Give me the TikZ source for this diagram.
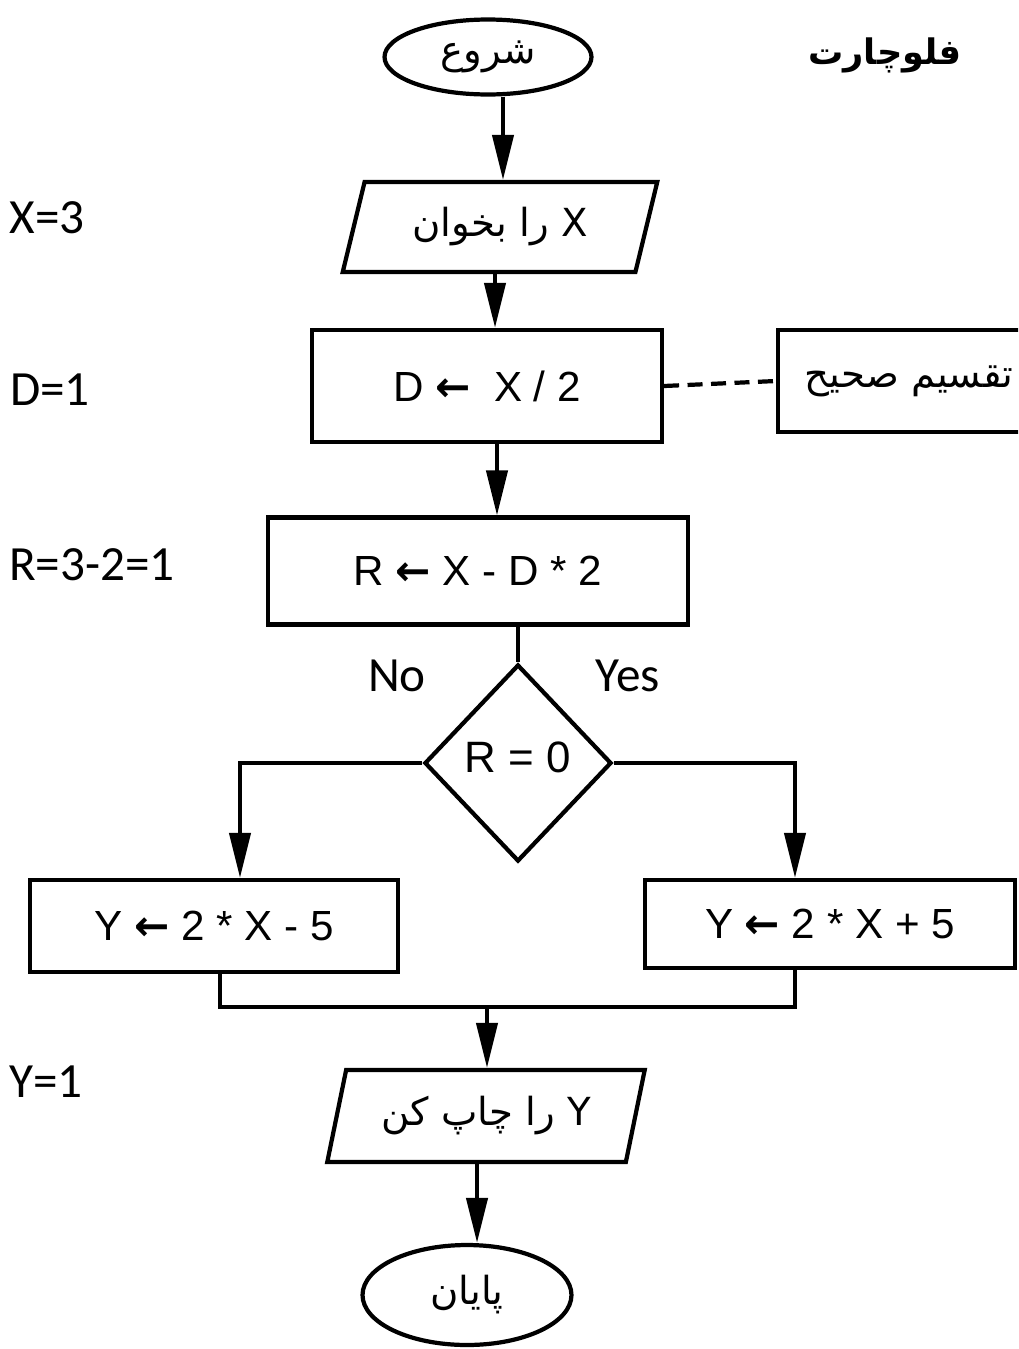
\documentclass[tikz,border=0pt]{standalone}
\usepackage{fontspec}
\setmainfont{Carlito}
\newfontfamily\formfont{Liberation Sans}
\newfontfamily\arrowfont{DejaVu Sans}
\newfontfamily\farsi[Script=Arabic]{DejaVu Sans}
\TeXXeTstate=1
\newcommand{\getsarrow}{{\arrowfont\bfseries ←}}
\usetikzlibrary{shapes.geometric,arrows.meta,calc}

\begin{document}
\begin{tikzpicture}[
    x=0.02cm, y=-0.02cm,
    line width=2.4pt,
    every node/.style={inner sep=0pt},
    terminal/.style={
      ellipse,
      draw,
      font=\farsi\fontsize{22}{26}\selectfont
    },
    io/.style={
      trapezium,
      trapezium left angle=70,
      trapezium right angle=110,
      trapezium stretches=true,
      draw,
      minimum width=6.3cm,
      minimum height=1.8cm,
      font=\farsi\fontsize{22}{26}\selectfont
    },
    proc/.style={
      rectangle,
      draw,
      font=\formfont\fontsize{24}{28}\selectfont
    },
    decision/.style={
      diamond,
      draw,
      minimum width=3.74cm,
      minimum height=3.94cm,
      font=\formfont\fontsize{25}{29}\selectfont
    },
    note/.style={font=\fontsize{28}{32}\selectfont},
    arr/.style={-{Triangle[length=0.9cm, width=0.42cm]}},
    dashline/.style={dash pattern=on 0.3cm off 0.17cm}
  ]
    \useasboundingbox (0,0) rectangle (1018,1349);
    \clip (0,0) rectangle (1018,1349);

    % main column
    \node[terminal, minimum width=4.14cm, minimum height=1.5cm] (start) at (488,57) {\raisebox{-0.1cm}{\beginR شروع\endR}};
    \node[font=\farsi\bfseries\fontsize{20}{24}\selectfont] (title) at (885,55) {\beginR فلوچارت\endR};
    \node[io] (read) at (500,227) {\raisebox{-0.08cm}{\beginR X را بخوان\endR}};
    \node[proc, minimum width=7cm, minimum height=2.24cm] (div) at (487,386) {D \getsarrow\ \ X / 2};
    \node[proc, minimum width=5.24cm, minimum height=2.04cm, font=\farsi\fontsize{22}{26}\selectfont] (side) at (909,381) {\raisebox{-0.08cm}{\beginR تقسیم صحیح\endR}};
    \node[proc, minimum width=8.4cm, minimum height=2.14cm] (rem) at (478,571) {R \getsarrow\ X - D * 2};
    \node[decision] (cond) at (518,763) {\raisebox{0.22cm}{R = 0}};
    \node[note] (no) at (397,676) {No};
    \node[note] (yes) at (628,676) {Yes};
    \node[proc, minimum width=7.36cm, minimum height=1.84cm] (lft) at (214,926) {Y \getsarrow\ 2 * X - 5};
    \node[proc, minimum width=7.4cm, minimum height=1.76cm] (rgt) at (830,924) {Y \getsarrow\ 2 * X + 5};
    \node[io, minimum width=6.36cm, minimum height=1.84cm] (out) at (486,1116) {\raisebox{-0.08cm}{\beginR Y را چاپ کن\endR}};
    \node[terminal, minimum width=4.18cm, minimum height=2cm] (stop) at (467,1295) {\raisebox{-0.1cm}{\beginR پایان\endR}};

    % traced values
    \node[note] (nx) at (47,218) {X=3};
    \node[note] (nd) at (50,390) {D=1};
    \node[note] (nr) at (92,565) {R=3-2=1};
    \node[note] (ny) at (46,1082) {Y=1};

    % connectors
    \draw[arr] ($(start.south)+(15,0)$) coordinate (a1) -- (a1 |- read.north);
    \draw[arr] ($(read.south)+(-5,0)$) coordinate (a2) -- (a2 |- div.north);
    \draw[arr] ($(div.south)+(10,0)$) coordinate (a3) -- (a3 |- rem.north);
    \draw[dashline] (div.east) -- (side.west);
    \draw (cond.north |- rem.south) -- (cond.north);
    \draw[arr] (cond.west) -| ($(lft.north)+(26,0)$);
    \draw[arr] (cond.east) -| ($(rgt.north)+(-35,0)$);
    \coordinate (join) at (487,1007);
    \draw ($(lft.south)+(6,0)$) |- (join) -| ($(rgt.south)+(-35,0)$);
    \draw[arr] (join) -- (join |- out.north);
    \draw[arr] ($(out.south)+(-9,0)$) coordinate (a4) -- (a4 |- stop.north);
\end{tikzpicture}
\end{document}
